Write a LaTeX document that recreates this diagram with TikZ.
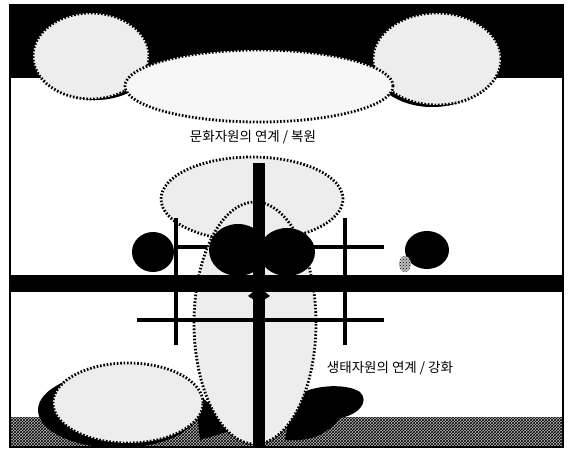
\documentclass[tikz,border=0pt]{standalone}
\usepackage{fontspec}
\newfontfamily\kr{Noto Sans CJK KR}
\usetikzlibrary{patterns}
\tikzset{
  stip/.style={fill=gray!14},
  dotline/.style={draw=black, line width=2.8pt, dash pattern=on 1.6pt off 1.8pt},
  ink/.style={fill=black},
  thinbar/.style={draw=black, line width=3.6pt},
  lbl/.style={font=\kr\fontsize{13.5}{15}\selectfont, inner sep=0pt}
}
\begin{document}
\begin{tikzpicture}[x=1pt,y=-1pt]
\useasboundingbox (0,0) rectangle (571,450);
\fill[white] (0,0) rectangle (571,450);
% sky
\fill[black] (10,5) rectangle (563,78);
% ground
\fill[gray!55] (10,417) rectangle (563,447);
\fill[pattern=crosshatch, pattern color=black] (10,417) rectangle (563,447);
% shadows of top ellipses
\fill[ink] (96,58) ellipse [x radius=58pt, y radius=42pt];
\fill[ink] (432,62) ellipse [x radius=62pt, y radius=45pt];
% top ellipses
\path[stip] (91,56) ellipse [x radius=58pt, y radius=43pt];
\draw[dotline] (91,56) ellipse [x radius=58pt, y radius=43pt];
\path[stip] (437,59) ellipse [x radius=64pt, y radius=46pt];
\draw[dotline] (437,59) ellipse [x radius=64pt, y radius=46pt];
\path[fill=gray!6] (259,86) ellipse [x radius=134pt, y radius=36pt];
\draw[dotline] (259,86) ellipse [x radius=134pt, y radius=36pt];
\node[lbl] (culture) at (253,137) {문화자원의 연계 / 복원};
% bottom-left shadow and ellipse
\fill[ink] (118,410) ellipse [x radius=80pt, y radius=38pt];
\fill[ink] (195,392) -- (240,428) -- (200,440) -- cycle;
% bottom-right blob
\fill[ink] (292,400) .. controls (305,385) and (345,382) .. (360,392)
  .. controls (370,402) and (358,415) .. (340,418)
  .. controls (330,430) and (320,438) .. (300,440) -- (285,440) -- cycle;
\path[stip] (128,403) ellipse [x radius=75pt, y radius=40pt];
\draw[dotline] (128,403) ellipse [x radius=75pt, y radius=40pt];
% upper middle ellipse
\path[stip] (252,199) ellipse [x radius=91pt, y radius=42pt];
\draw[dotline] (252,199) ellipse [x radius=91pt, y radius=42pt];
% thin lines
\draw[thinbar] (176,218) -- (176,345);
\draw[thinbar] (345,218) -- (345,345);
\draw[thinbar] (177,247) -- (384,247);
% tall ellipse
\path[stip] (255,323) ellipse [x radius=61pt, y radius=121pt];
\draw[dotline] (255,323) ellipse [x radius=61pt, y radius=121pt];
\draw[thinbar] (137,320) -- (384,320);
% black blobs
\fill[ink] (153,252) ellipse [x radius=21pt, y radius=20pt];
\fill[ink] (238,250) ellipse [x radius=29pt, y radius=26pt];
\fill[ink] (287,252) ellipse [x radius=28pt, y radius=24pt];
\fill[ink] (427,250) ellipse [x radius=22pt, y radius=19pt];
\fill[gray!50] (405,264) ellipse [x radius=6pt, y radius=8pt];
\fill[pattern=crosshatch dots, pattern color=black] (405,264) ellipse [x radius=6pt, y radius=8pt];
% thick band
\fill[ink] (10,275) rectangle (563,292);
\fill[ink] (259,287) -- (270,296) -- (259,303) -- (248,296) -- cycle;
% vertical bar
\fill[ink] (253,163) rectangle (265,447);
\node[lbl] (eco) at (390,368) {생태자원의 연계 / 강화};
% frame
\draw[line width=1.2pt] (10,5) rectangle (563,447);
\end{tikzpicture}
\end{document}
